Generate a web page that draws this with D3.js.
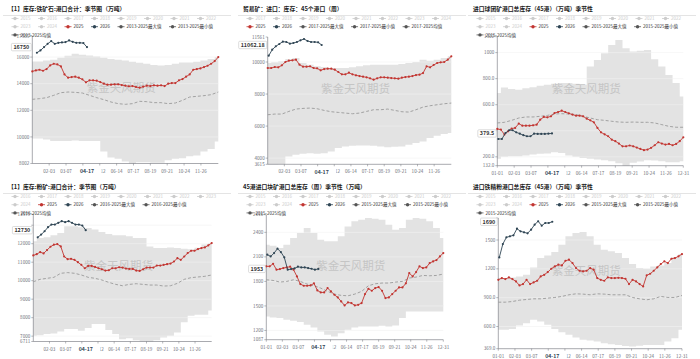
<!DOCTYPE html>
<html>
<head>
<meta charset="utf-8">
<script src="https://cdn.jsdelivr.net/npm/d3@7"></script>
<style>
  body { margin: 0; background: #fff; }
  svg { display: block; font-family: "Noto Sans CJK SC", "Noto Sans", sans-serif; }
</style>
</head>
<body>
<svg id="chart" width="700" height="359"></svg>
<script>
// x categories (day of year, leap-year base)
const weekDays = [0,7,14,21,28,35,42,49,56,63,70,77,84,91,98,105,112,119,126,133,140,147,154,161,168,175,182,189,196,203,210,217,224,231,238,245,252,259,266,273,280,287,294,301,308,315,322,329,336,343,350,357,364];
const bandDays = [0,14,28,42,56,70,84,98,112,126,140,154,168,182,196,210,224,238,252,266,280,294,308,322,336,350,364];
const days2026 = [2,9,16,23,30,37,44,51,58,65,72,79,86,93,100,107];
const xTickDays = [0,33,66,99,132,165,198,231,264,297,330,364];
const xTickLabels = ['01-01','02-03','03-07','04-09','05-12','06-14','07-17','08-19','09-21','10-24','11-26','12-31'];
const pointerDay = 107;
const pointerLabel = '04-17';

// panel 1: 港口合计
const p1Y2025 = [14925,15000,15050,14975,15100,15375,15500,15450,15300,14700,14450,14500,14525,14450,14325,14100,14250,14250,14225,14125,14000,13925,13925,13950,13950,13900,13850,13800,13825,13750,13700,13775,13850,13825,13875,13850,13875,13825,14000,14050,14050,14250,14350,14525,14700,15050,15100,15150,15250,15350,15500,15700,16000];
const p1Y2026 = [null,16325,16500,16750,17000,17200,17000,17075,17100,17125,17250,17150,17075,17075,17050,16750];
const p1Mean = [12825,12875,12950,13125,13325,13375,13350,13300,13125,12950,12800,12625,12500,12450,12500,12675,12650,12575,12575,12500,12550,12750,13000,13050,13100,13175,13375];
const p1Max = [15675,15675,15750,15800,15950,16100,16250,16175,16125,16050,15950,15850,15800,15750,15650,15575,15500,15400,15375,15400,15500,15600,15600,15650,15750,15850,16000];
const p1Min = [9875,9875,9800,9700,9700,9700,9725,9700,9700,9700,8900,8450,8350,8150,8002,8100,8100,8050,8050,8250,8350,8400,8550,8600,8900,9100,9650];

// panel 2: 贸易矿 45港
const p2Y2025 = [9625,9625,9687,9667,9792,10000,10083,10104,10146,9833,9708,9708,9729,9625,9604,9479,9562,9583,9583,9521,9375,9229,9229,9333,9229,9167,9125,9083,9042,8979,8896,8979,9042,9042,9021,9000,8979,8958,9021,9062,9083,9125,9187,9208,9312,9729,9667,9812,9937,9979,10000,10146,10354];
const p2Y2026 = [10396,10770,10979,11125,11270,11250,11146,11187,11250,11354,11437,11312,11250,11250,11229,11062.18];
const p2Mean = [6708,6750,6750,6917,7062,7104,7125,7083,6979,6896,6854,6812,6771,6812,6917,7021,7021,7062,6979,6896,6875,7021,7187,7271,7333,7396,7437];
const p2Max = [9937,9979,10042,10187,10250,9937,9833,9729,9687,9625,9625,9625,9667,9729,9792,9833,9833,9833,9833,9875,9937,10000,10146,10083,10146,10250,10354];
const p2Min = [3615,3620,3640,4104,4208,4271,4312,4271,4312,4417,4625,4729,4771,4792,4792,4771,4729,4687,4708,4729,4833,4937,5042,5250,5396,5500,5562];

// panel 3: 球团矿
const p3Y2025 = [414,409,371,396,417,422,455,439,439,439,442,447,485,506,503,511,536,544,554,544,534,524,516,516,511,493,480,465,422,388,373,358,332,320,302,281,281,287,281,271,261,251,256,269,289,312,302,294,299,289,299,320,350];
const p3Y2026 = [337,337,383,404,404,388,378,366,358,358,378,376,376,376,378,379.5];
const p3Mean = [460,465,480,498,506,506,511,518,529,531,529,524,511,498,485,480,473,467,465,467,465,465,460,447,434,427,427];
const p3Max = [689,732,720,715,727,735,745,753,760,766,766,760,753,893,944,995,1059,1097,1033,1008,1015,1020,949,893,829,766,664];
const p3Min = [185,200,205,205,210,218,223,225,236,230,210,200,192,185,180,174,167,150,132,154,164,174,172,167,159,159,167];

// panel 4: 粉矿
const p4Y2025 = [11364,11436,11545,11473,11655,11836,11945,11982,11855,11309,11164,11182,11127,11000,10855,10673,10800,10800,10745,10673,10618,10545,10564,10673,10673,10727,10709,10655,10636,10636,10545,10527,10618,10709,10709,10709,10818,10818,10855,10891,10927,11036,11218,11127,11309,11491,11618,11618,11709,11764,11800,11909,12036];
const p4Y2026 = [null,12345,12491,12673,12891,13036,13036,13127,13218,13164,13218,13127,13036,13036,12982,12730];
const p4Mean = [9945,10073,10127,10182,10400,10436,10400,10309,10182,10127,10036,9909,9800,9727,9800,9836,9800,9764,9764,9709,9727,9855,10073,10164,10200,10236,10309];
const p4Max = [12127,12309,12345,12455,12582,12945,12945,12891,12855,12764,12636,12527,12455,12455,12400,12309,12309,11855,11764,11764,11800,11764,11727,11700,11780,11950,12036];
const p4Min = [7019,7055,7110,7146,7255,7383,7383,7292,7437,7655,7655,7328,7110,6837,6892,6783,6720,6711,6783,6928,7019,7201,7746,8110,8164,8164,8383];

// panel 5: 块矿
const p5Y2025 = [1984,1984,2016,1943,1951,1963,1971,1980,1943,1861,1767,1747,1747,1751,1776,1690,1665,1665,1718,1678,1637,1604,1555,1506,1543,1535,1506,1514,1535,1645,1710,1686,1718,1731,1686,1596,1604,1645,1686,1726,1726,1776,1902,1861,1914,1984,1963,1971,2024,2045,2061,2106,2147];
const p5Y2026 = [2127,2106,2147,2200,2159,2094,1943,1951,1959,1980,1971,1971,1963,1955,1943,1953];
const p5Mean = [1820,1812,1792,1800,1820,1800,1767,1747,1718,1678,1645,1629,1624,1645,1678,1747,1771,1780,1780,1792,1800,1841,1853,1873,1869,1873,1890];
const p5Max = [2249,2237,2208,2249,2331,2392,2453,2392,2310,2290,2290,2351,2473,2535,2555,2576,2567,2555,2494,2433,2453,2555,2576,2567,2535,2453,2331];
const p5Min = [1371,1359,1351,1331,1318,1302,1269,1237,1188,1147,1126,1167,1208,1237,1249,1249,1249,1257,1249,1261,1351,1433,1433,1433,1433,1433,1433];

// panel 6: 铁精粉
const p6Y2025 = [1086,1104,1093,1111,1093,1069,1027,1041,1086,1041,1059,1076,1121,1138,1166,1201,1225,1243,1236,1284,1295,1260,1208,1180,1173,1180,1208,1191,1104,1086,1076,1111,1104,1104,1107,1104,1097,1041,1086,1069,1041,1017,1132,1149,1180,1215,1250,1278,1260,1305,1312,1330,1354];
const p6Y2026 = [1319,1458,1528,1538,1549,1618,1590,1580,1570,1608,1660,1695,1649,1677,1677,1690];
const p6Mean = [853,853,860,874,881,888,888,895,902,913,930,940,937,930,940,937,930,930,930,902,888,878,888,913,902,902,923];
const p6Max = [1104,1104,1111,1121,1138,1215,1312,1340,1375,1451,1538,1573,1583,1538,1451,1399,1382,1364,1312,1250,1208,1201,1225,1236,1260,1320,1354];
const p6Min = [565,565,575,610,634,669,652,617,575,541,513,485,461,454,443,426,415,408,398,391,401,408,408,408,443,478,565];

const years8a = ['2015','2016','2017','2018','2019','2020','2021','2022'];

const panels = [
  { ox: 0, oy: 0, title: '【1】库存:铁矿石:港口合计：季节图（万吨）',
    L: 32.3, R: 218.3, T: 36, B: 163.5, yMin: 8002, yMax: 17585, step: 2000, ends: false,
    legend: [years8a, ['2023','2024','2025','2026','2013-2025最大值','2013-2025最小值'], ['2013-2025均值']],
    y25: p1Y2025, y26: p1Y2026, mean: p1Mean, max: p1Max, min: p1Min, last: '16750' },
  { ox: 235, oy: 0, title: '贸易矿：进口：库存：45个港口（周）',
    L: 32.7, R: 216.3, T: 37, B: 164.3, yMin: 3615, yMax: 11561, step: 2000, ends: false,
    legend: [['2017','2018','2019','2020','2021','2022','2023','2024'], ['2025','2026','2017-2025最大值','2017-2025最小值','2017-2025均值']],
    y25: p2Y2025, y26: p2Y2026, mean: p2Mean, max: p2Max, min: p2Min, last: '11062.18' },
  { ox: 465, oy: 0, title: '进口球团矿港口总库存（45港）（万吨）季节性',
    L: 32.3, R: 218.3, T: 36.7, B: 165.7, yMin: 132, yMax: 1122, step: 200, ends: true,
    legend: [years8a, ['2023','2024','2025','2026','2015-2025最大值','2015-2025最小值'], ['2015-2025均值']],
    y25: p3Y2025, y26: p3Y2026, mean: p3Mean, max: p3Max, min: p3Min, last: '379.5' },
  { ox: 0, oy: 178, title: '【1】库存:粉矿:港口合计：季节图（万吨）',
    L: 33.3, R: 211.7, T: 36.5, B: 163.5, yMin: 6711, yMax: 13579, step: 1000, ends: false,
    legend: [['2016','2017','2018','2019','2020','2021','2022','2023'], ['2024','2025','2026','2016-2025最大值','2016-2025最小值'], ['2016-2025均值']],
    y25: p4Y2025, y26: p4Y2026, mean: p4Mean, max: p4Max, min: p4Min, last: '12730' },
  { ox: 235, oy: 178, title: '45港进口块矿港口总库存（周）季节性（万吨）',
    L: 31.3, R: 208.3, T: 36.7, B: 161.7, yMin: 1087, yMax: 2616, step: 300, ends: true,
    legend: [years8a, ['2023','2024','2025','2026','2015-2025最大值','2015-2025最小值'], ['2015-2025均值']],
    y25: p5Y2025, y26: p5Y2026, mean: p5Mean, max: p5Max, min: p5Min, last: '1953' },
  { ox: 465, oy: 178, title: '进口铁精粉港口总库存（45港）（万吨）季节性',
    L: 33.3, R: 217, T: 40, B: 170.7, yMin: 369, yMax: 1729, step: 300, ends: true,
    legend: [years8a, ['2023','2024','2025','2026','2015-2025最大值','2015-2025最小值'], ['2015-2025均值']],
    y25: p6Y2025, y26: p6Y2026, mean: p6Mean, max: p6Max, min: p6Min, last: '1690' }
];

const RED = '#c23531', NAVY = '#2f4554', AXIS = '#6e7079';
const svg = d3.select('#chart');

function fmtY(v) { return v >= 1000 ? String(Math.round(v)) : v.toFixed(1); }

function legendColor(name) {
  if (name === '2025') return { icon: RED, text: '#333' };
  if (name === '2026') return { icon: NAVY, text: '#333' };
  if (name.length > 4) return { icon: '#555', text: '#333' };
  return { icon: '#ccc', text: '#ccc' };
}

function drawPanel(p) {
  const g = svg.append('g').attr('transform', `translate(${p.ox},${p.oy})`);
  const x = d3.scaleLinear().domain([0, 364]).range([p.L, p.R]);
  const y = d3.scaleLinear().domain([p.yMin, p.yMax]).range([p.B, p.T]);

  const lastVal = p.y26[p.y26.length - 1];
  const py = y(lastVal);
  const px = x(pointerDay);

  // title + rule
  g.append('text').attr('x', 8).attr('y', 10.5)
    .attr('font-size', 5.8).attr('font-weight', 700).attr('fill', '#222')
    .text(p.title);
  g.append('line').attr('x1', 3).attr('x2', 231).attr('y1', 15.5).attr('y2', 15.5)
    .attr('stroke', '#d9d9d9').attr('stroke-width', 0.7);

  // band max/min
  const band = bandDays.map((d, i) => ({ d: d, lo: p.min[i], hi: p.max[i] }));
  g.append('path').datum(band)
    .attr('fill', '#e3e3e3')
    .attr('d', d3.area().curve(d3.curveStep)
      .x(d => x(d.d)).y0(d => y(d.lo)).y1(d => y(d.hi)));

  // y ticks + grid
  const ticks = d3.range(Math.ceil(p.yMin / p.step) * p.step, p.yMax, p.step)
    .filter(v => Math.abs(y(v) - y(p.yMin)) > 4 && Math.abs(y(v) - y(p.yMax)) > 4);
  g.selectAll('.grid').data(ticks).join('line')
    .attr('x1', p.L).attr('x2', p.R)
    .attr('y1', d => y(d)).attr('y2', d => y(d))
    .attr('stroke', '#f2f2f2').attr('stroke-width', 0.6);

  // watermark
  g.append('text').attr('x', (p.L + p.R) / 2 - 4).attr('y', p.T + (p.B - p.T) * 0.4)
    .attr('text-anchor', 'middle').attr('dominant-baseline', 'central')
    .attr('font-size', 11.5).attr('fill', '#a8a8a8').attr('opacity', 0.5)
    .text('紫金天风期货');

  // axes
  g.append('line').attr('x1', p.L).attr('x2', p.L).attr('y1', p.T).attr('y2', p.B)
    .attr('stroke', AXIS).attr('stroke-width', 0.6);
  g.append('line').attr('x1', p.L).attr('x2', p.R).attr('y1', p.B).attr('y2', p.B)
    .attr('stroke', AXIS).attr('stroke-width', 0.6);

  const yLabels = [p.yMin].concat(ticks, [p.yMax]);
  g.selectAll('.ytick').data(yLabels).join('line')
    .attr('x1', p.L - 2).attr('x2', p.L)
    .attr('y1', d => y(d)).attr('y2', d => y(d))
    .attr('stroke', AXIS).attr('stroke-width', 0.5);
  // labels under the value box are hidden, as in the original
  g.selectAll('.ylab').data(yLabels.filter(v => Math.abs(y(v) - py) > 6.5)).join('text')
    .attr('x', p.L - 3).attr('y', d => y(d) + 1.6)
    .attr('text-anchor', 'end').attr('font-size', 4.6).attr('fill', AXIS)
    .text(d => fmtY(d));

  const xIdx = d3.range(xTickDays.length)
    .filter(i => p.ends || (i > 0 && i < xTickDays.length - 1));
  g.selectAll('.xtick').data(xIdx).join('line')
    .attr('x1', i => x(xTickDays[i])).attr('x2', i => x(xTickDays[i]))
    .attr('y1', p.B).attr('y2', p.B + 2)
    .attr('stroke', AXIS).attr('stroke-width', 0.5);
  // the pointer label covers the tick label right under it
  g.selectAll('.xlab').data(xIdx.filter(i => Math.abs(x(xTickDays[i]) - px) > 8)).join('text')
    .attr('x', i => x(xTickDays[i])).attr('y', p.B + 9)
    .attr('text-anchor', 'middle').attr('font-size', 4.6).attr('fill', AXIS)
    .text(i => xTickLabels[i]);

  // mean
  g.append('path').datum(p.mean)
    .attr('fill', 'none').attr('stroke', '#9a9a9a').attr('stroke-width', 0.9)
    .attr('stroke-dasharray', '3,2')
    .attr('d', d3.line().x((d, i) => x(bandDays[i])).y(d => y(d)));

  // 2025
  g.append('path').datum(p.y25)
    .attr('fill', 'none').attr('stroke', RED).attr('stroke-width', 0.9)
    .attr('d', d3.line().x((d, i) => x(weekDays[i])).y(d => y(d)));
  g.selectAll('.m25').data(p.y25).join('circle')
    .attr('cx', (d, i) => x(weekDays[i])).attr('cy', d => y(d))
    .attr('r', 1.1).attr('fill', RED);

  // 2026
  g.append('path').datum(p.y26)
    .attr('fill', 'none').attr('stroke', NAVY).attr('stroke-width', 0.9)
    .attr('d', d3.line().defined(d => d != null)
      .x((d, i) => x(days2026[i])).y(d => y(d)));
  g.selectAll('.m26').data(p.y26.map((v, i) => [days2026[i], v]).filter(d => d[1] != null))
    .join('circle')
    .attr('cx', d => x(d[0])).attr('cy', d => y(d[1]))
    .attr('r', 1.1).attr('fill', NAVY);

  // axis pointer labels
  g.append('rect').attr('x', px - 13).attr('y', p.B + 2.5).attr('width', 27.5).attr('height', 8.5)
    .attr('fill', '#fff');
  g.append('text').attr('x', px).attr('y', p.B + 9.2)
    .attr('text-anchor', 'middle').attr('font-size', 5.2).attr('font-weight', 700)
    .attr('fill', NAVY).text(pointerLabel);

  const bt = g.append('text').attr('y', py + 1.9)
    .attr('text-anchor', 'middle').attr('font-size', 5.4).attr('font-weight', 700)
    .attr('fill', '#333').text(p.last);
  const w = bt.node().getComputedTextLength() + 4;
  g.insert('rect', function() { return bt.node(); })
    .attr('x', p.L - 1 - w).attr('y', py - 3.7).attr('width', w).attr('height', 7.4)
    .attr('rx', 1).attr('fill', '#fff').attr('stroke', '#bbb').attr('stroke-width', 0.5);
  bt.attr('x', p.L - 1 - w / 2);

  // legend
  p.legend.forEach((row, ri) => {
    let lx = 11.5;
    const ly = 18.5 + ri * 8.2;
    row.forEach(name => {
      const c = legendColor(name);
      g.append('line').attr('x1', lx).attr('x2', lx + 7).attr('y1', ly).attr('y2', ly)
        .attr('stroke', c.icon).attr('stroke-width', 0.8);
      g.append('circle').attr('cx', lx + 3.5).attr('cy', ly).attr('r', 1.7).attr('fill', c.icon);
      const t = g.append('text').attr('x', lx + 9).attr('y', ly + 1.6)
        .attr('font-size', 4.5).attr('fill', c.text).text(name);
      lx += 9 + t.node().getComputedTextLength() + 7.5;
    });
  });
}

panels.forEach(drawPanel);
</script>
</body>
</html>
